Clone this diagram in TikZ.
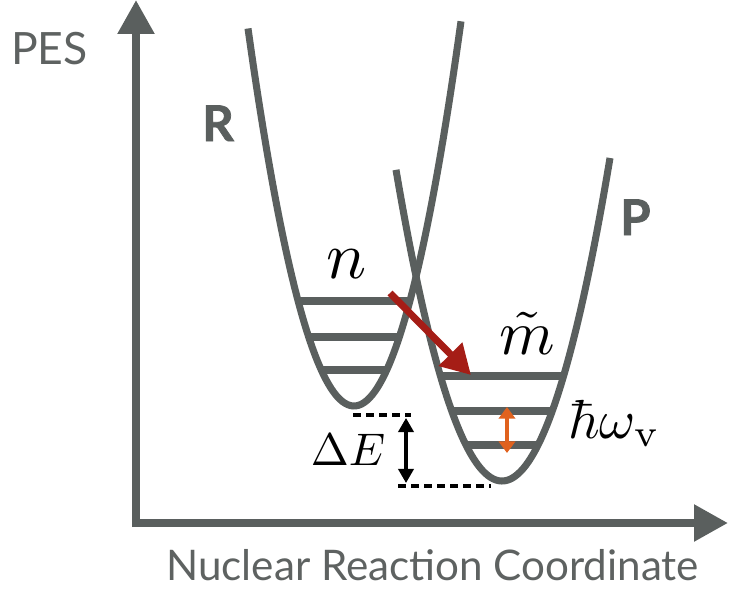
\documentclass[tikz,border=0pt]{standalone}
\usepackage{fontspec}
\usetikzlibrary{arrows.meta}
\newfontfamily\lightsans{Lato}
\newfontfamily\heavysans{Lato}[BoldFeatures={FakeBold=1.5}]
\definecolor{axgray}{HTML}{5A5F5E}
\definecolor{txtgray}{HTML}{5E6261}
\definecolor{darkred}{HTML}{A51D16}
\definecolor{orng}{HTML}{E0621E}
\tikzset{
  axis/.style={draw=axgray, line width=6.8pt, -{Triangle[length=29pt,width=30pt]}},
  well/.style={draw=axgray, line width=6pt},
  level/.style={draw=axgray, line width=6pt},
  transfer/.style={draw=darkred, line width=6pt, -{Triangle[length=25pt,width=27pt]}},
  quantum/.style={draw=orng, line width=3.4pt, {Triangle[length=10pt,width=14pt]}-{Triangle[length=10pt,width=14pt]}},
  gap/.style={draw=black, line width=2.6pt, {Triangle[length=12pt,width=13pt]}-{Triangle[length=12pt,width=13pt]}},
  dashline/.style={draw=black, line width=3.4pt, dash pattern=on 6.8pt off 4.3pt},
  lbl/.style={inner sep=0pt, anchor=base west},
}
\begin{document}
\begin{tikzpicture}[x=0.03cm, y=-0.03cm]
\useasboundingbox (0,0) rectangle (732,590);
% axes
\coordinate (origin) at (136,523);
\coordinate (ytip) at (136,0);
\coordinate (xtip) at (728,523);
\coordinate (ystart) at (136,527);
\coordinate (xstart) at (132,523);
\draw[axis] (ystart) -- (ytip);
\draw[axis] (xstart) -- (xtip);
% wells
\draw[well] plot[domain=248:461, samples=80, smooth] (\x, {406-0.0336*(\x-354)*(\x-354)});
\draw[well] plot[domain=396:610, samples=80, smooth] (\x, {481-0.0277*(\x-502)*(\x-502)});
% levels R
\draw[level] (354-55.9,301) -- (354+55.9,301);
\draw[level] (354-45.3,337) -- (354+45.3,337);
\draw[level] (354-32.7,370) -- (354+32.7,370);
% levels P
\draw[level] (502-61.6,376) -- (502+61.6,376);
\draw[level] (502-50.3,411) -- (502+50.3,411);
\draw[level] (502-36,445) -- (502+36,445);
% dashed lines
\coordinate (dRa) at (353,415);
\coordinate (dRb) at (411,415);
\coordinate (dPa) at (398,486);
\coordinate (dPb) at (491,486);
\draw[dashline] (dRa) -- (dRb);
\draw[dashline] (dPa) -- (dPb);
% arrows
\coordinate (tA) at (390,293);
\coordinate (tB) at (471,375);
\draw[transfer] (tA) -- (tB);
\coordinate (qA) at (507,407);
\coordinate (qB) at (507,453);
\draw[quantum] (qA) -- (qB);
\coordinate (gA) at (406,418);
\coordinate (gB) at (406,483);
\draw[gap] (gA) -- (gB);
% labels
\node[lbl, scale=5.7] (n) at (325,278) {$n$};
\node[lbl, scale=5.4] (m) at (498,354) {$\tilde{m}$};
\node[lbl, scale=4.7] (hw) at (567,438) {$\hbar\omega_{\mathrm{v}}$};
\node[lbl, scale=3.9] (dE) at (310,465) {$\Delta E$};
\node[lbl, text=axgray] (R) at (202,141) {\heavysans\bfseries\fontsize{42}{44}\selectfont R};
\node[lbl, text=axgray] (P) at (620,235) {\heavysans\bfseries\fontsize{42}{44}\selectfont P};
\node[lbl, text=txtgray] (pes) at (11,65) {\lightsans\fontsize{38}{40}\selectfont PES};
\node[lbl, text=txtgray] (xl) at (166,580) {\lightsans\fontsize{36}{38}\selectfont Nuclear Reaction Coordinate};
\end{tikzpicture}
\end{document}
